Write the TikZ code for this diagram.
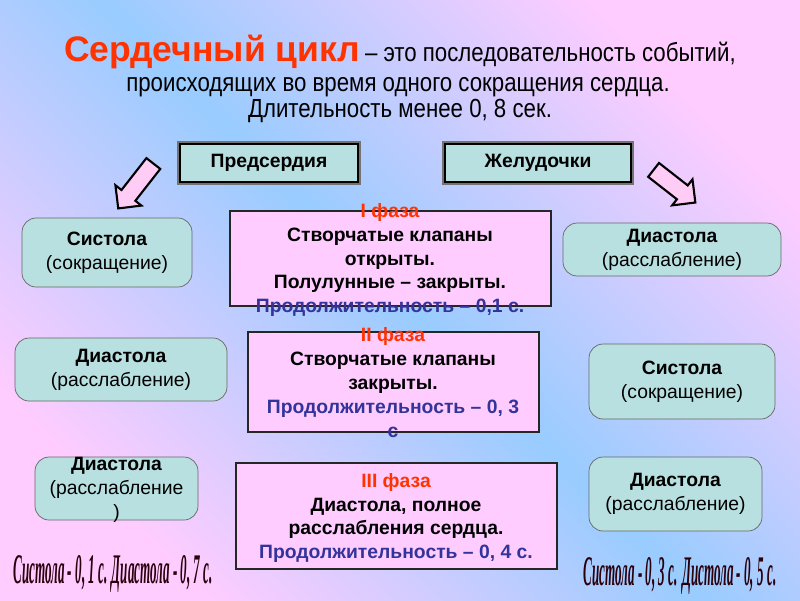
\documentclass[tikz,border=0pt]{standalone}
\usepackage{fontspec}
\setmainfont{Liberation Sans}
\newfontfamily\narrowfont[FakeStretch=0.85]{Liberation Sans}
\newfontfamily\artfont[FakeStretch=0.31]{Liberation Serif}
\usetikzlibrary{shapes.arrows}

\definecolor{bgblue}{HTML}{99CCFF}
\definecolor{bgpink}{HTML}{FFCCFF}
\definecolor{titlered}{HTML}{FF3300}
\definecolor{durblue}{HTML}{333399}
\definecolor{tealbox}{HTML}{B9E0E0}
\definecolor{pinkbox}{HTML}{FFCCFF}
\definecolor{arrowpink}{HTML}{FFCCF5}
\definecolor{artred}{HTML}{2A000C}

\begin{document}
\begin{tikzpicture}[x=0.02cm, y=-0.02cm,
        chamber/.style={rectangle, draw=black, line width=1.3pt, fill=tealbox,
            preaction={draw=black!55, line width=3.4pt},
            minimum height=0.76cm, font=\bfseries\fontsize{11}{13.6}\selectfont},
        state/.style={rectangle, rounded corners=8pt, draw=black!60, fill=tealbox,
            align=center, font=\fontsize{11}{13.6}\selectfont},
        phase/.style={rectangle, draw=black!85, line width=0.8pt, fill=pinkbox},
        phasetext/.style={align=center, inner sep=0pt, font=\bfseries\fontsize{11}{13.6}\selectfont},
        bigarrow/.style={single arrow, draw=black, line width=1.2pt, fill=arrowpink,
            inner xsep=0pt, inner ysep=4.4pt, single arrow head extend=4.4pt},
        summary/.style={anchor=base, font=\artfont\bfseries\itshape\fontsize{24}{28}\selectfont, text=artred}
    ]
        % Background
        \useasboundingbox (0,0) rectangle (800,600);
        \shade[top color=bgpink, bottom color=bgpink, middle color=bgblue, shading angle=-45]
            (0,0) rectangle (800,600);

        % Title
        \node[anchor=base] (title1) at (400,61) {{\color{titlered}\fontsize{20.2}{24}\selectfont\bfseries Сердечный цикл}
            {\narrowfont\fontsize{14.9}{18}\selectfont – это последовательность событий,}};
        \node[anchor=base, font=\narrowfont\fontsize{14.9}{18}\selectfont] (title2) at (398,91)
            {происходящих во время одного сокращения сердца.};
        \node[anchor=base, font=\narrowfont\fontsize{14.9}{18}\selectfont] (title3) at (400,117)
            {Длительность менее 0, 8 сек.};

        % Atria and ventricles
        \node[chamber, minimum width=3.56cm] (atria) at (269,163) {Предсердия};
        \node[chamber, minimum width=3.72cm] (ventr) at (538,163) {Желудочки};

        \node[bigarrow, minimum height=1.14cm, rotate=232] (arrowL) at (138.5,182.5) {};
        \node[bigarrow, minimum height=1.06cm, rotate=-38] (arrowR) at (671,183.5) {};

        % Atria column
        \node[state, minimum width=3.4cm, minimum height=1.38cm] (sysA) at (107,252.5)
            {\textbf{Систола}\\(сокращение)};
        \node[state, minimum width=4.24cm, minimum height=1.26cm] (diaA) at (121,369.5)
            {\textbf{Диастола}\\(расслабление)};
        \node[state, minimum width=3.26cm, minimum height=1.26cm] (diaA2) at (116.5,488.5) {};
        \node[phasetext, font=\fontsize{11}{13.6}\selectfont] (diaA2text) at (116.5,489.5)
            {\textbf{Диастола}\\(расслабление\\)};

        % Ventricles column
        \node[state, minimum width=4.36cm, minimum height=1.02cm] (diaV) at (672,249.5)
            {\textbf{Диастола}\\(расслабление)};
        \node[state, minimum width=3.72cm, minimum height=1.5cm] (sysV) at (682,381.5)
            {\textbf{Систола}\\(сокращение)};
        \node[state, minimum width=3.46cm, minimum height=1.48cm] (diaV2) at (675.5,494)
            {\textbf{Диастола}\\(расслабление)};

        % Phases
        \node[phase, minimum width=6.42cm, minimum height=1.9cm] (ph1) at (390.5,258.5) {};
        \node[phasetext] (ph1text) at (390,260) {{\color{titlered}I фаза}\\
            Створчатые клапаны\\открыты.\\Полулунные – закрыты.\\
            {\color{durblue}Продолжительность – 0,1 с.}};

        \node[phase, minimum width=5.82cm, minimum height=2cm] (ph2) at (393.5,382) {};
        \node[phasetext] (ph2text) at (393,382.5) {{\color{titlered}II фаза}\\
            Створчатые клапаны\\закрыты.\\
            {\color{durblue}Продолжительность – 0, 3}\\{\color{durblue}с}};

        \node[phase, minimum width=6.42cm, minimum height=2.12cm] (ph3) at (396.5,516) {};
        \node[phasetext] (ph3text) at (396,518) {{\color{titlered}III фаза}\\
            Диастола, полное\\расслабления сердца.\\
            {\color{durblue}Продолжительность – 0, 4 с.}};

        % Totals
        \node[summary] (sumA) at (113,583) {Систола - 0, 1 с. Диастола - 0, 7 с.};
        \node[summary] (sumV) at (680,585) {Систола - 0, 3 с. Дистола - 0, 5 с.};
    \end{tikzpicture}
\end{document}
